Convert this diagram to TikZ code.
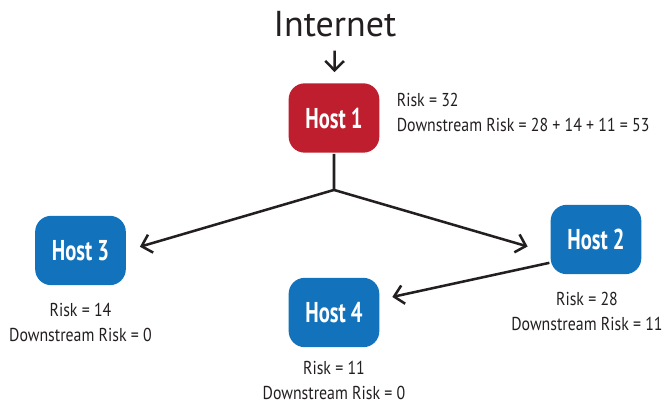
\documentclass[tikz,border=0pt]{standalone}
\usepackage{fontspec}
\usepackage{xcolor}
\usepackage{tikz}
\usetikzlibrary{arrows.meta}
\setmainfont{PT Sans}
\newfontfamily\labelfont{PT Sans}[FakeStretch=0.85]
\newfontfamily\hostfont{PT Sans}[FakeStretch=0.72]
\definecolor{hostred}{RGB}{190,30,45}
\definecolor{hostblue}{RGB}{18,115,188}
\definecolor{ink}{RGB}{35,31,32}

\begin{document}
\begin{tikzpicture}[x=0.75pt,y=0.75pt,>={Straight Barb[length=7pt,width=14pt]},
                    line width=1.9pt,draw=ink]
\tikzstyle{host}=[rounded corners=12pt,minimum width=68pt,minimum height=52pt,
                  inner sep=0pt,text=white,font=\hostfont\bfseries\fontsize{21.5}{24}\selectfont]
\tikzstyle{risk}=[text=ink,align=center,inner sep=0pt,
                  font=\labelfont\fontsize{14}{18.75}\selectfont]
\tikzstyle{inet}=[text=ink,inner sep=0pt,font=\fontsize{27}{30}\selectfont]
\useasboundingbox (-334,118) rectangle (328,-285);
\path
node[host,fill=hostred] (H1) {Host 1}
(H1.north) ++ (1,57.5) node[inet] (Inet) {Internet}
(H1.south) ++ (0,-36) coordinate (J)
(H1) ++ (-253.5,-132.5) node[host,fill=hostblue] (H3) {Host 3}
(H1) ++ (262,-121.5) node[host,fill=hostblue] (H2) {Host 2}
(H1) ++ (0,-194.5) node[host,fill=hostblue] (H4) {Host 4}
(H1.east) ++ (15,5.5) node[risk,anchor=west,align=left] (R1)
    {Risk = 32\\Downstream Risk = 28 + 14 + 11 = 53}
(H3.south) ++ (0,-36) node[risk] (R3) {Risk = 14\\Downstream Risk = 0}
(H2.south) ++ (-9,-36.5) node[risk] (R2) {Risk = 28\\Downstream Risk = 11}
(H4.south) ++ (0,-32) node[risk] (R4) {Risk = 11\\Downstream Risk = 0};

\draw[->,shorten <=9pt,shorten >=7.5pt] (Inet) -- (H1);
\draw[->,shorten >=10pt] (H1) -- (J) -- (H3.east);
\draw[->,shorten >=17pt] (J) -- ([yshift=-10pt]H2.west);
\draw[->,shorten >=9pt] ([yshift=-17.5pt]H2.west) -- ([yshift=9.75pt]H4.east);
\end{tikzpicture}
\end{document}
